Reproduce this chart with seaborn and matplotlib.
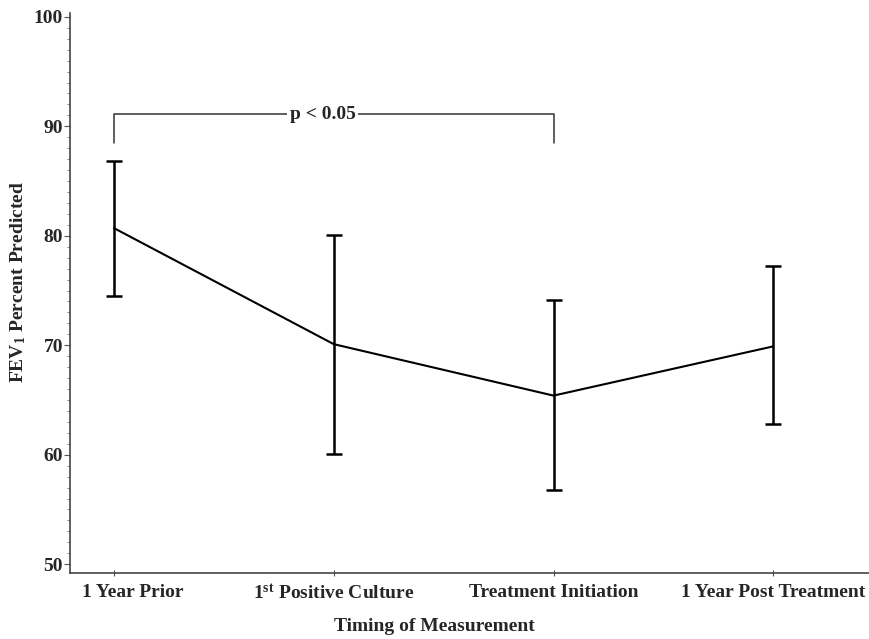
import matplotlib
matplotlib.use("Agg")
import matplotlib.pyplot as plt
import matplotlib.transforms as mtransforms
from matplotlib.ticker import MultipleLocator
import seaborn as sns
import pandas as pd

# Summary values per measurement time
categories = ["1 Year Prior", r"1$^{\mathbf{st}}$ Positive Culture",
              "Treatment Initiation", "1 Year Post Treatment"]
mean_fev1 = [80.7, 70.1, 65.4, 69.9]
upper_fev1 = [86.8, 80.1, 74.1, 77.2]
lower_fev1 = [74.5, 60.1, 56.8, 62.8]
y_ticks = [50, 60, 70, 80, 90, 100]

sns.set_theme(style="ticks")
plt.rcParams["font.family"] = ["Liberation Serif", "DejaVu Serif"]
plt.rcParams["font.weight"] = "bold"
plt.rcParams["mathtext.fontset"] = "custom"
plt.rcParams["mathtext.rm"] = "Liberation Serif:bold"
plt.rcParams["mathtext.bf"] = "Liberation Serif:bold"
plt.rcParams["mathtext.it"] = "Liberation Serif:bold"

df = pd.DataFrame({"pos": range(len(categories)), "mean": mean_fev1,
                   "upper": upper_fev1, "lower": lower_fev1})

fig = plt.figure(figsize=(8.7, 6.39), dpi=100)
ax = fig.add_axes([0.0805, 0.103, 0.9195, 0.877])

sns.lineplot(data=df, x="pos", y="mean", color="black", linewidth=1.5, ax=ax)
ax.errorbar(df["pos"], df["mean"],
            yerr=[df["mean"] - df["lower"], df["upper"] - df["mean"]],
            fmt="none", ecolor="black", elinewidth=1.8, capsize=5.5, capthick=1.8)

# significance bracket between first and third time points
bx = [0, 0, 2, 2]
by = [88.5, 91.1, 91.1, 88.5]
ax.plot(bx, by, color="#333333", linewidth=1.1)
ax.text(0.95, 91.1, "p < 0.05", ha="center", va="center", fontsize=14,
        fontweight="bold", bbox=dict(facecolor="white", edgecolor="none", pad=2))

ax.set_xlim(-0.2, 3.44)
ax.set_ylim(49.18, 100.37)
ax.set_xticks(range(len(categories)))
ax.set_xticklabels(categories, fontsize=14, fontweight="bold")
ax.set_yticks(y_ticks)
ax.set_yticklabels([str(t) for t in y_ticks], fontsize=14, fontweight="bold")
ax.yaxis.set_minor_locator(MultipleLocator(1))

ax.tick_params(axis="x", direction="inout", length=5, width=0.8, color="#555555", pad=5)
ax.tick_params(axis="y", which="major", direction="out", length=4, width=0.8, color="#555555", pad=1)
ax.tick_params(axis="y", which="minor", direction="out", length=2, width=0.6, color="#777777")

# nudge the first category label away from the y axis
first = ax.xaxis.get_major_ticks()[0].label1
first.set_transform(first.get_transform() +
                    mtransforms.ScaledTranslation(0.19, 0, fig.dpi_scale_trans))

for side in ["top", "right"]:
    ax.spines[side].set_visible(False)
for side in ["left", "bottom"]:
    ax.spines[side].set_color("#444444")
    ax.spines[side].set_linewidth(1.2)

ax.set_xlabel("Timing of Measurement", fontsize=14, fontweight="bold")
ax.xaxis.set_label_coords(0.456, -0.08)
ax.set_ylabel(r"FEV$_{\mathbf{1}}$ Percent Predicted", fontsize=14, fontweight="bold")
ax.yaxis.set_label_coords(-0.053, 0.52)

fig.savefig("out.png", dpi=100, facecolor="white")
